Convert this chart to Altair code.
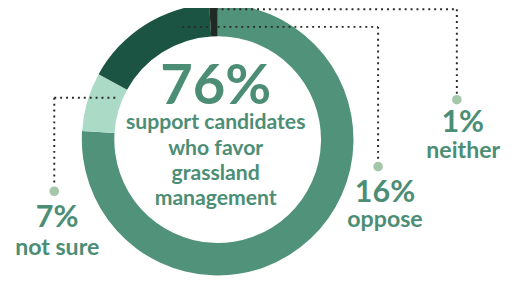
import altair as alt
import pandas as pd

# ---- data ----
labels = ["support", "not sure", "oppose", "neither"]
values = [76, 7, 16, 1]
captions = ["support candidates who favor grassland management", "not sure", "oppose", "neither"]
center_lines = ["support candidates", "who favor", "grassland", "management"]

# ---- styles ----
seg_colors = ["#50927a", "#abdac7", "#1b5443", "#1f2b25"]
text_color = "#4c8e75"
marker_color = "#a5c7a9"
leader_color = "#2a2a2a"
FONT = "Lato"

# ---- layout (page pixel coordinates) ----
cx, cy, r_out, r_in = 221, 139.5, 138, 105
# leader lines for the three outer labels: not sure, oppose, neither
leader_segments = [
    (55, 97, 118, 97), (55, 97, 55, 186),
    (185, 25, 384, 25), (384, 25, 384, 162),
    (213, 7, 464, 7), (464, 7, 464, 94),
]
marker_pos = [(55, 192), (384, 167), (464, 99)]
outer_pct_pos = [(58, 228), (391, 203), (470, 131.5)]
outer_word_pos = [(58, 257), (391, 228.5), (470.5, 158.5)]
center_x = 219
center_pct_y = 103
center_line_y = [129, 155, 181, 206]

W, H = 518, 282
xs = alt.Scale(domain=[0, W], range=[0, W])
ys = alt.Scale(domain=[0, H], range=[0, H])

arc_df = pd.DataFrame({"label": labels, "value": values, "idx": list(range(len(labels)))})
donut = alt.Chart(arc_df).mark_arc(outerRadius=r_out, innerRadius=r_in).encode(
    theta=alt.Theta("value:Q", stack=True),
    color=alt.Color("label:N", scale=alt.Scale(domain=labels, range=seg_colors), legend=None),
    order=alt.Order("idx:Q"),
    x=alt.value(cx),
    y=alt.value(cy),
)

seg_df = pd.DataFrame(leader_segments, columns=["x", "y", "x2", "y2"])
leaders = alt.Chart(seg_df).mark_rule(
    color=leader_color, strokeWidth=2, strokeDash=[2, 4]
).encode(
    x=alt.X("x:Q", scale=xs, axis=None),
    y=alt.Y("y:Q", scale=ys, axis=None),
    x2="x2:Q",
    y2="y2:Q",
)

mk_df = pd.DataFrame(marker_pos, columns=["x", "y"])
markers = alt.Chart(mk_df).mark_circle(size=95, color=marker_color, opacity=1).encode(
    x=alt.X("x:Q", scale=xs, axis=None),
    y=alt.Y("y:Q", scale=ys, axis=None),
)

outer_vals = values[1:]
pct_df = pd.DataFrame({
    "x": [p[0] for p in outer_pct_pos],
    "y": [p[1] for p in outer_pct_pos],
    "t": [f"{v}%" for v in outer_vals],
})
pct_text = alt.Chart(pct_df).mark_text(
    font=FONT, fontWeight="bold", fontSize=31, color=text_color,
    align="center", baseline="alphabetic",
).encode(x=alt.X("x:Q", scale=xs, axis=None), y=alt.Y("y:Q", scale=ys, axis=None), text="t:N")

word_df = pd.DataFrame({
    "x": [p[0] for p in outer_word_pos],
    "y": [p[1] for p in outer_word_pos],
    "t": captions[1:],
})
word_text = alt.Chart(word_df).mark_text(
    font=FONT, fontWeight="bold", fontSize=23.5, color=text_color,
    align="center", baseline="alphabetic",
).encode(x=alt.X("x:Q", scale=xs, axis=None), y=alt.Y("y:Q", scale=ys, axis=None), text="t:N")

big_df = pd.DataFrame({"x": [center_x], "y": [center_pct_y], "t": [f"{values[0]}%"]})
big_text = alt.Chart(big_df).mark_text(
    font=FONT, fontWeight="bold", fontSize=57, color=text_color,
    align="center", baseline="alphabetic",
).encode(x=alt.X("x:Q", scale=xs, axis=None), y=alt.Y("y:Q", scale=ys, axis=None), text="t:N")

cl_df = pd.DataFrame({"x": [center_x] * len(center_lines), "y": center_line_y, "t": center_lines})
center_text = alt.Chart(cl_df).mark_text(
    font=FONT, fontWeight="bold", fontSize=21.5, color=text_color,
    align="center", baseline="alphabetic",
).encode(x=alt.X("x:Q", scale=xs, axis=None), y=alt.Y("y:Q", scale=ys, axis=None), text="t:N")

chart = alt.layer(
    donut, leaders, markers, pct_text, word_text, big_text, center_text
).properties(
    width=W, height=H,
    autosize=alt.AutoSizeParams(type="none"),
    padding={"left": -8, "top": -8, "right": 0, "bottom": 0},
).configure_view(stroke=None)

chart.save("out.html", embed_options={"renderer": "svg", "actions": False})
